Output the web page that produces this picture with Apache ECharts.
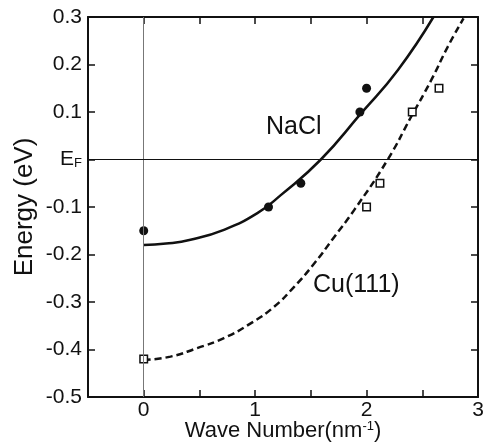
<!DOCTYPE html>
<html>
<head>
<meta charset="utf-8">
<script src="https://cdn.jsdelivr.net/npm/echarts@6/dist/echarts.min.js"></script>
<style>
  html, body { margin: 0; padding: 0; background: #fff; }
  #chart { width: 486px; height: 445px; }
</style>
</head>
<body>
<div id="chart"></div>
<script>
// 测量点 (wave number, energy)
var naclK = [0, 1.12, 1.41, 1.94, 2.0];
var naclE = [-0.15, -0.10, -0.05, 0.10, 0.15];
var cuK = [0, 2.0, 2.12, 2.41, 2.65];
var cuE = [-0.42, -0.10, -0.05, 0.10, 0.15];

// 拟合曲线
var naclFitK = [0, 0.2, 0.42, 0.72, 1.02, 1.23, 1.59, 1.95, 2.28, 2.60];
var naclFitE = [-0.18, -0.177, -0.169, -0.148, -0.113, -0.075, 0, 0.097, 0.188, 0.30];
var cuFitK = [0, 0.24, 0.48, 0.72, 0.96, 1.17, 1.35, 1.53, 1.71, 1.89, 2.19, 2.40, 2.58, 2.73, 2.87];
var cuFitE = [-0.422, -0.415, -0.397, -0.376, -0.345, -0.310, -0.268, -0.219, -0.163, -0.106, 0.0, 0.09, 0.167, 0.238, 0.297];

var xTicks = [0, 1, 2, 3];

function pairs(xs, ys) {
	return xs.map(function (x, i) { return [x, ys[i]]; });
}

var font = 'Liberation Sans, Arial, sans-serif';
var chart = echarts.init(document.getElementById('chart'));

var frameLine = { onZero: false, lineStyle: { color: '#111', width: 2 } };
var frameTick = { inside: true, length: 7, lineStyle: { color: '#111', width: 1.5 } };

var option = {
	animation: false,
	backgroundColor: '#fff',
	grid: { left: 88, right: 8, top: 17, bottom: 48, outerBoundsMode: 'none', containLabel: false },
	xAxis: [
		{
			type: 'value',
			min: -0.5,
			max: 3,
			interval: 0.5,
			name: 'Wave Number(nm{sup|-1})',
			nameLocation: 'middle',
			nameMoveOverlap: false,
			nameGap: 23,
			nameTextStyle: {
				color: '#111', fontFamily: font, fontSize: 22,
				rich: { sup: { fontSize: 13, verticalAlign: 'top', fontFamily: font, color: '#111' } }
			},
			axisLine: frameLine,
			axisTick: frameTick,
			axisLabel: {
				color: '#111', fontFamily: font, fontSize: 21, margin: 3,
				showMinLabel: true, showMaxLabel: true,
				formatter: function (v) {
					return xTicks.indexOf(v) >= 0 ? String(v) : '';
				}
			},
			splitLine: { show: false }
		},
		{
			type: 'value',
			position: 'top',
			min: -0.5,
			max: 3,
			interval: 0.5,
			axisLine: frameLine,
			axisTick: frameTick,
			axisLabel: { show: false },
			splitLine: { show: false }
		}
	],
	yAxis: [
		{
			type: 'value',
			min: -0.5,
			max: 0.3,
			interval: 0.1,
			name: 'Energy (eV)',
			nameLocation: 'middle',
			nameMoveOverlap: false,
			nameGap: 50,
			nameTextStyle: { color: '#111', fontFamily: font, fontSize: 26 },
			axisLine: frameLine,
			axisTick: frameTick,
			axisLabel: {
				color: '#111', fontFamily: font, fontSize: 21, margin: 6,
				formatter: function (v) {
					if (Math.abs(v) < 1e-9) return '{e|E}{f|F}';
					return v.toFixed(1);
				},
				rich: {
					e: { fontSize: 21, fontFamily: font, color: '#111' },
					f: { fontSize: 13, fontFamily: font, color: '#111', verticalAlign: 'bottom' }
				}
			},
			splitLine: { show: false }
		},
		{
			type: 'value',
			position: 'right',
			min: -0.5,
			max: 0.3,
			interval: 0.1,
			axisLine: frameLine,
			axisTick: frameTick,
			axisLabel: { show: false },
			splitLine: { show: false }
		}
	],
	graphic: [
		{ type: 'text', left: 266, top: 115, style: { text: 'NaCl', font: '25px ' + font, fill: '#111' } },
		{ type: 'text', left: 313, top: 273, style: { text: 'Cu(111)', font: '25px ' + font, fill: '#111' } }
	],
	series: [
		{
			name: 'NaCl fit',
			type: 'line',
			data: pairs(naclFitK, naclFitE),
			smooth: true,
			showSymbol: false,
			clip: true,
			lineStyle: { color: '#111', width: 2.5 },
			markLine: {
				silent: true,
				symbol: 'none',
				label: { show: false },
				data: [
					{ xAxis: 0, lineStyle: { color: '#777', width: 1, type: 'solid' } },
					{ yAxis: 0, lineStyle: { color: '#111', width: 1, type: 'solid' } }
				]
			},
			z: 3
		},
		{
			name: 'Cu fit',
			type: 'line',
			data: pairs(cuFitK, cuFitE),
			smooth: true,
			showSymbol: false,
			clip: true,
			lineStyle: { color: '#111', width: 2.5, type: [7, 4] },
			z: 3
		},
		{
			name: 'NaCl',
			type: 'scatter',
			data: pairs(naclK, naclE),
			symbol: 'circle',
			symbolSize: 9,
			itemStyle: { color: '#111', opacity: 1 },
			z: 4
		},
		{
			name: 'Cu(111)',
			type: 'scatter',
			data: pairs(cuK, cuE),
			symbol: 'rect',
			symbolSize: 7.5,
			itemStyle: { color: '#fff', borderColor: '#111', borderWidth: 1.5, opacity: 1 },
			z: 4
		}
	]
};

chart.setOption(option);
</script>
</body>
</html>
